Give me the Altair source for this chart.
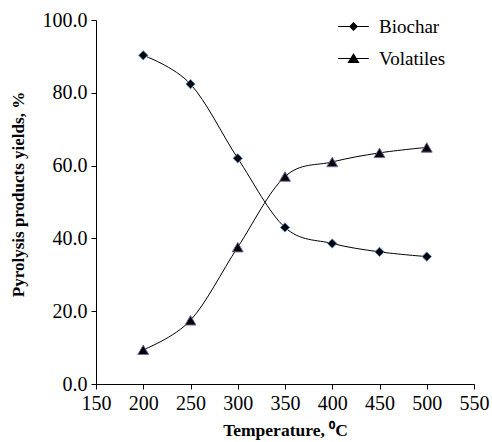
import altair as alt
import pandas as pd

temperatures = [200, 250, 300, 350, 400, 450, 500]
biochar = [90.3, 82.4, 62.0, 43.0, 38.6, 36.3, 35.0]
volatiles = [9.4, 17.5, 37.6, 57.0, 61.0, 63.5, 65.0]
series = ["Biochar", "Volatiles"]
x_ticks = [150, 200, 250, 300, 350, 400, 450, 500, 550]
y_ticks = [0, 20, 40, 60, 80, 100]

df = pd.DataFrame({
    "Temperature": temperatures * 2,
    "Yield": biochar + volatiles,
    "Product": [series[0]] * len(temperatures) + [series[1]] * len(temperatures),
})

label_font = "Liberation Serif"
title_font = "Liberation Serif"

x = alt.X(
    "Temperature:Q",
    scale=alt.Scale(domain=[150, 550], nice=False, zero=False),
    axis=alt.Axis(values=x_ticks, title="Temperature, \u2070C", format="d",
                  titlePadding=8, labelFlush=False, titleFontSize=17.5),
)
y = alt.Y(
    "Yield:Q",
    scale=alt.Scale(domain=[0, 100], nice=False),
    axis=alt.Axis(values=y_ticks, format=".1f", title="Pyrolysis products yields, %",
                  titlePadding=15, labelFlush=False, titleY=174),
)

base = alt.Chart(df)

lines = base.mark_line(color="black", strokeWidth=1, interpolate="cardinal").encode(
    x=x, y=y, detail="Product:N"
)

bio_pts = base.transform_filter(alt.datum.Product == "Biochar").mark_point(
    shape="diamond", filled=True, fill="black", stroke="#4f81bd",
    strokeWidth=1, size=85, opacity=1
).encode(x=x, y=y)

vol_pts = base.transform_filter(alt.datum.Product == "Volatiles").mark_point(
    shape="triangle-up", filled=True, fill="black", stroke="#8064a2",
    strokeWidth=1, size=120, opacity=1
).encode(x=x, y=y)

diamond_path = "M-3.4,-0.11H3.4V0.11H-3.4ZM0,-1L1,0L0,1L-1,0Z"
triangle_path = "M-3.4,-0.11H3.4V0.11H-3.4ZM0,-1.2L1.35,1L-1.35,1Z"

legend_layer = base.transform_filter("false").mark_point(
    filled=True, color="black", opacity=1
).encode(
    x=x, y=y,
    shape=alt.Shape(
        "Product:N",
        scale=alt.Scale(domain=series, range=[diamond_path, triangle_path]),
        legend=alt.Legend(
            title=None, orient="none", legendX=248, legendY=-3,
            padding=0, symbolSize=81, symbolFillColor="black",
            symbolStrokeColor="black", symbolStrokeWidth=0,
            labelFont=label_font, labelFontSize=19, labelColor="black",
            labelOffset=16, rowPadding=12, symbolOpacity=1,
        ),
    ),
)

chart = alt.layer(lines, bio_pts, vol_pts, legend_layer).properties(
    width=378, height=364,
    autosize=alt.AutoSizeParams(type="none"),
    padding={"left": 96, "top": 20, "right": 18, "bottom": 58},
).configure_view(stroke=None).configure_axis(
    grid=False, domainColor="black", domainWidth=1, tickColor="black",
    tickSize=5, tickWidth=1, labelFont=label_font, labelFontSize=20,
    labelColor="black", labelPadding=4, titleFont=title_font, titleFontSize=17,
    titleFontWeight="bold", titleColor="black",
)

chart.save("out.html", embed_options={"renderer": "svg", "actions": False})
